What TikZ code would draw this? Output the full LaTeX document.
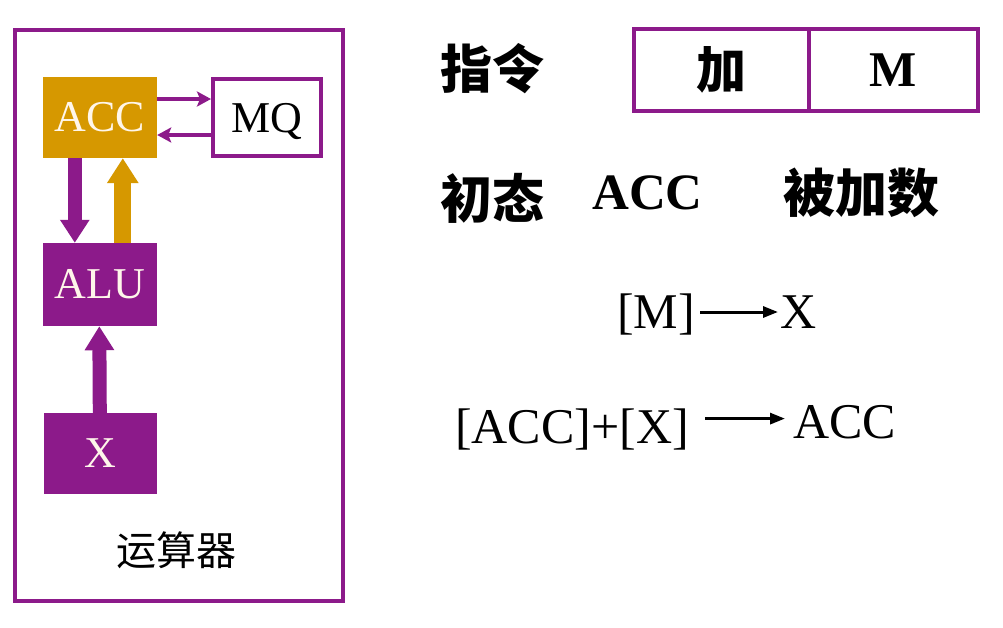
\documentclass[tikz,border=0pt]{standalone}
\usepackage{fontspec}
\setmainfont{Liberation Serif}
\newfontfamily\cjk{Noto Sans CJK SC}
\usetikzlibrary{arrows.meta}
\definecolor{pur}{HTML}{8C1A8A}
\definecolor{org}{HTML}{D69800}
\definecolor{cream}{HTML}{FFF6EA}
\begin{document}
\begin{tikzpicture}[x=1pt,y=-1pt,
  filledbox/.style={inner sep=0pt, minimum width=114pt, font=\fontsize{44}{48}\selectfont},
  framebox/.style={draw=pur, line width=4pt, fill=white, inner sep=0pt},
  bigtxt/.style={inner sep=0pt, font=\fontsize{50}{56}\selectfont},
  cjktxt/.style={inner sep=0pt, font=\cjk\bfseries\fontsize{52}{58}\selectfont},
  blockarrow/.style={line width=#1},
  thinarrow/.style={pur, line width=3.5pt, -{Stealth[length=14pt,width=15pt,inset=3pt]}},
  eqarrow/.style={black, line width=3pt, -{Triangle[length=15pt,width=11pt]}}
]
\fill[white] (0,0) rectangle (1003,627);
\useasboundingbox (0,0) rectangle (1003,627);

% left panel
\node[framebox, minimum width=328pt, minimum height=571pt] (outer) at (179,315.5) {};
\node[inner sep=0pt, font=\cjk\fontsize{40}{44}\selectfont] (ysq) at (176,550) {运算器};

\node[filledbox, fill=org, text=cream, minimum height=81pt] (ACC) at (100,117.5) {ACC};
\node[framebox, minimum width=108pt, minimum height=77pt, text depth=0pt, font=\fontsize{44}{48}\selectfont] (MQ) at (267,117.5) {MQ};
\node[filledbox, fill=pur, text=cream, minimum height=83pt] (ALU) at (100,284.5) {ALU};
\node[filledbox, fill=pur, text=cream, minimum width=113pt, minimum height=81pt] (X) at (100,453.5) {X};

\draw[thinarrow] ([yshift=18.5pt]ACC.east) -- ([yshift=18.5pt]MQ.west);
\draw[thinarrow] ([yshift=-17.5pt]MQ.west) -- ([yshift=-17.5pt]ACC.east);

\draw[pur, line width=14pt, -{Triangle[length=23pt,width=28pt]}] ([xshift=32pt]ACC.south west) -- ([xshift=32pt]ALU.north west);
\draw[org, line width=17pt, -{Triangle[length=25pt,width=30pt]}] ([xshift=80pt]ALU.north west) -- ([xshift=80pt]ACC.south west);
\draw[pur, line width=14pt, -{Triangle[length=24pt,width=28pt]}] ([xshift=56.5pt]X.north west) -- ([xshift=56.5pt]ALU.south west);

% right panel
\node[cjktxt] (zl) at (492,69) {指令};
\node[framebox, minimum width=175pt, minimum height=82pt, font=\cjk\bfseries\fontsize{50}{56}\selectfont] (c1) at (721.5,70) {加};
\node[framebox, minimum width=169pt, minimum height=82pt, font=\bfseries\fontsize{50}{56}\selectfont] (c2) at (893.5,70) {M};

\node[cjktxt] (ct) at (492,198) {初态};
\node[inner sep=0pt, font=\bfseries\fontsize{51}{56}\selectfont] (accb) at (647.5,193) {ACC};
\node[cjktxt] (bjs) at (861,193) {被加数};

\node[bigtxt, anchor=base west] (m1) at (617,328) {[M]};
\node[bigtxt, anchor=base west] (x1) at (780,328) {X};
\draw[eqarrow, shorten <=5pt, shorten >=2pt] ([yshift=2pt]m1.east) -- ([yshift=2pt]m1.east -| x1.west);

\node[bigtxt, anchor=base west] (a2) at (455,443) {[ACC]+[X]};
\node[bigtxt, anchor=base west] (b2) at (793,438) {ACC};
\draw[eqarrow, shorten <=16pt, shorten >=8pt] ([yshift=10.4pt]a2.east) -- ([yshift=10.4pt]a2.east -| b2.west);
\end{tikzpicture}
\end{document}
